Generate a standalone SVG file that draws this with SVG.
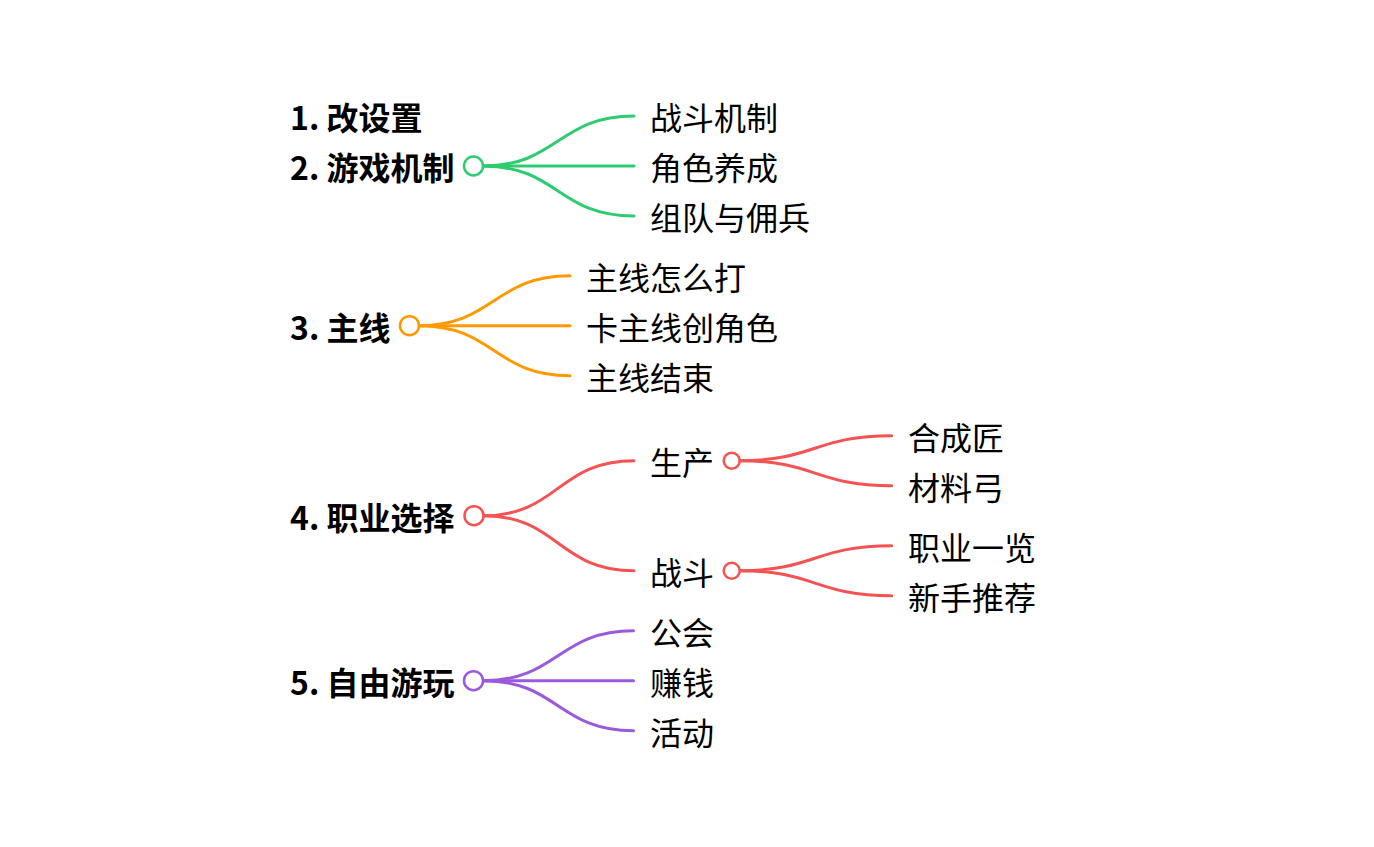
<svg xmlns="http://www.w3.org/2000/svg" width="1374" height="847" viewBox="0 0 1374 847">
<style>
.t{font-family:"Noto Sans CJK SC","Noto Sans",sans-serif;font-size:32px;fill:#000}
.b{font-weight:bold}
.e{fill:none;stroke-width:3;stroke-linecap:round}
.n{fill:#fff;stroke-width:2.5}
.g{stroke:#2ecc71}
.o{stroke:#ff9900}
.r{stroke:#f55353}
.p{stroke:#9b59dc}
</style>
<rect width="1374" height="847" fill="#fff"/>
<g id="connectors">
<path class="e g" d="M483 166 C558 166 558 116 634 116"/>
<path class="e g" d="M483 166 L634 166"/>
<path class="e g" d="M483 166 C558 166 558 216 634 216"/>
<path class="e o" d="M419 325.7 C494 325.7 494 275.7 570 275.7"/>
<path class="e o" d="M419 325.7 L570 325.7"/>
<path class="e o" d="M419 325.7 C494 325.7 494 375.7 570 375.7"/>
<path class="e r" d="M483.5 515.7 C558 515.7 558 460.7 634 460.7"/>
<path class="e r" d="M483.5 515.7 C558 515.7 558 570.7 634 570.7"/>
<path class="e r" d="M739.5 460.7 C815 460.7 815 435.7 891.7 435.7"/>
<path class="e r" d="M739.5 460.7 C815 460.7 815 485.7 891.7 485.7"/>
<path class="e r" d="M739.5 570.7 C815 570.7 815 545.7 891.7 545.7"/>
<path class="e r" d="M739.5 570.7 C815 570.7 815 595.7 891.7 595.7"/>
<path class="e p" d="M483 680.7 C558 680.7 558 630.7 633.5 630.7"/>
<path class="e p" d="M483 680.7 L633.5 680.7"/>
<path class="e p" d="M483 680.7 C558 680.7 558 730.7 633.5 730.7"/>
</g>
<g id="n1"><text class="t b" x="290" y="130">1. 改设置</text></g>
<g id="n2"><text class="t b" x="290" y="180">2. 游戏机制</text><circle class="n g" cx="473.5" cy="166" r="9.5"/></g>
<g id="n2a"><text class="t" x="650" y="130">战斗机制</text></g>
<g id="n2b"><text class="t" x="650" y="180">角色养成</text></g>
<g id="n2c"><text class="t" x="650" y="230">组队与佣兵</text></g>
<g id="n3"><text class="t b" x="290" y="339.7">3. 主线</text><circle class="n o" cx="409.5" cy="325.7" r="9.5"/></g>
<g id="n3a"><text class="t" x="586" y="289.7">主线怎么打</text></g>
<g id="n3b"><text class="t" x="586" y="339.7">卡主线创角色</text></g>
<g id="n3c"><text class="t" x="586" y="389.7">主线结束</text></g>
<g id="n4"><text class="t b" x="290" y="529.7">4. 职业选择</text><circle class="n r" cx="474" cy="515.7" r="9.5"/></g>
<g id="n4a"><text class="t" x="650" y="474.7">生产</text><circle class="n r" cx="731.7" cy="460.7" r="8"/></g>
<g id="n4a1"><text class="t" x="908" y="449.7">合成匠</text></g>
<g id="n4a2"><text class="t" x="908" y="499.7">材料弓</text></g>
<g id="n4b"><text class="t" x="650" y="584.7">战斗</text><circle class="n r" cx="731.7" cy="570.7" r="8"/></g>
<g id="n4b1"><text class="t" x="908" y="559.7">职业一览</text></g>
<g id="n4b2"><text class="t" x="908" y="609.7">新手推荐</text></g>
<g id="n5"><text class="t b" x="290" y="694.7">5. 自由游玩</text><circle class="n p" cx="473.5" cy="680.7" r="9.5"/></g>
<g id="n5a"><text class="t" x="650" y="644.7">公会</text></g>
<g id="n5b"><text class="t" x="650" y="694.7">赚钱</text></g>
<g id="n5c"><text class="t" x="650" y="744.7">活动</text></g>
</svg>
